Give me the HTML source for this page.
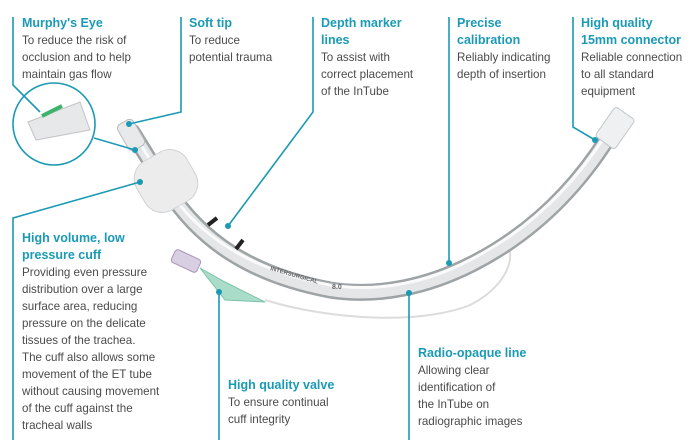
<!DOCTYPE html>
<html><head><style>
html,body{margin:0;padding:0;background:#fff}
svg{display:block}
.h{font:bold 12.5px "Liberation Sans",sans-serif;fill:#1b9ab6}
.b{font:11.6px "Liberation Sans",sans-serif;fill:#4a4a4a}
.l{stroke:#1b9ab6;stroke-width:1.6;fill:none}
.d{fill:#1b9ab6}
</style></head><body>
<svg width="700" height="440" viewBox="0 0 700 440" xmlns="http://www.w3.org/2000/svg">
<!-- pilot line -->
<path d="M265,300 C330,320 420,325 470,305 C500,290 520,262 505,238" stroke="#dcdcdc" stroke-width="2" fill="none"/>
<!-- tube -->
<path d="M132,132 L168,190 C200,240 250,275 330,290 C380,298 430,285 470,265 C530,235 575,190 608,138" stroke="#9ea3a6" stroke-width="17" fill="none" stroke-linecap="round"/>
<path d="M132,132 L168,190 C200,240 250,275 330,290 C380,298 430,285 470,265 C530,235 575,190 608,138" stroke="#e4e6e7" stroke-width="12" fill="none"/>
<path d="M132,130 L166,186 C198,236 250,270 330,285 C380,293 430,281 468,261 C528,231 572,187 605,136" stroke="#fafafa" stroke-width="3" fill="none"/>
<path d="M208,225 l9,-7" stroke="#222" stroke-width="4"/>
<path d="M236,249 l7,-9" stroke="#222" stroke-width="4"/>
<text x="270" y="270" transform="rotate(16 270 270)" style="font:bold 6px 'Liberation Sans',sans-serif;fill:#666">INTERSURGICAL</text>
<text x="332" y="289" style="font:bold 7px 'Liberation Sans',sans-serif;fill:#666">8.0</text>
<!-- cuff -->
<rect x="137" y="153" width="58" height="56" rx="20" fill="#ececec" stroke="#cfd2d4" transform="rotate(-30 166 181)"/>
<!-- tip -->
<rect x="122" y="120" width="18" height="30" rx="5" fill="#e8e9ea" stroke="#b9bcbf" transform="rotate(-30 131 135)"/>
<!-- connector -->
<rect x="603" y="110" width="24" height="36" rx="3" fill="#eef0f1" stroke="#c5c8ca" transform="rotate(35 615 128)"/>
<!-- valve -->
<path d="M200,268 L225,282 L265,302 L225,300 Z" fill="#a9dcc9" stroke="#7cc2a8"/>
<rect x="172" y="254" width="28" height="14" rx="3" fill="#d9cfe3" stroke="#a895b8" transform="rotate(25 186 261)"/>
<!-- murphy circle -->
<circle cx="54" cy="124" r="41" fill="#fff" stroke="#1b9ab6" stroke-width="1.6"/>
<path d="M28,122 L80,102 L90,130 L36,140 Z" fill="#e6e8e9" stroke="#c1c4c6"/>
<path d="M42,116 L62,106" stroke="#3bb36a" stroke-width="4"/>
<!-- leader lines -->
<path class="l" d="M13,17 V85 L40,112"/>
<path class="l" d="M94,138 L135,150"/><circle class="d" cx="135" cy="150" r="3"/>
<path class="l" d="M181,17 V112 L129,124"/><circle class="d" cx="129" cy="124" r="3"/>
<path class="l" d="M313,17 V112 L228,226"/><circle class="d" cx="228" cy="226" r="3"/>
<path class="l" d="M449,17 V263"/><circle class="d" cx="449" cy="263" r="3"/>
<path class="l" d="M573,17 V127 L595,140"/><circle class="d" cx="595" cy="140" r="3"/>
<path class="l" d="M13,440 V218 L140,182"/><circle class="d" cx="140" cy="182" r="3"/>
<path class="l" d="M219,292 V440"/><circle class="d" cx="219" cy="292" r="3"/>
<path class="l" d="M409,293 V440"/><circle class="d" cx="409" cy="293" r="3"/>
<!-- texts -->
<text class="h" x="22" y="27">Murphy's Eye</text>
<text class="b" x="22" y="44">To reduce the risk of</text>
<text class="b" x="22" y="61">occlusion and to help</text>
<text class="b" x="22" y="78">maintain gas flow</text>
<text class="h" x="189" y="27">Soft tip</text>
<text class="b" x="189" y="44">To reduce</text>
<text class="b" x="189" y="61">potential trauma</text>
<text class="h" x="321" y="27">Depth marker</text>
<text class="h" x="321" y="44">lines</text>
<text class="b" x="321" y="61">To assist with</text>
<text class="b" x="321" y="78">correct placement</text>
<text class="b" x="321" y="95">of the InTube</text>
<text class="h" x="457" y="27">Precise</text>
<text class="h" x="457" y="44">calibration</text>
<text class="b" x="457" y="61">Reliably indicating</text>
<text class="b" x="457" y="78">depth of insertion</text>
<text class="h" x="581" y="27">High quality</text>
<text class="h" x="581" y="44">15mm connector</text>
<text class="b" x="581" y="61">Reliable connection</text>
<text class="b" x="581" y="78">to all standard</text>
<text class="b" x="581" y="95">equipment</text>
<text class="h" x="22" y="242">High volume, low</text>
<text class="h" x="22" y="259">pressure cuff</text>
<text class="b" x="22" y="276">Providing even pressure</text>
<text class="b" x="22" y="293">distribution over a large</text>
<text class="b" x="22" y="310">surface area, reducing</text>
<text class="b" x="22" y="327">pressure on the delicate</text>
<text class="b" x="22" y="344">tissues of the trachea.</text>
<text class="b" x="22" y="361">The cuff also allows some</text>
<text class="b" x="22" y="378">movement of the ET tube</text>
<text class="b" x="22" y="395">without causing movement</text>
<text class="b" x="22" y="412">of the cuff against the</text>
<text class="b" x="22" y="429">tracheal walls</text>
<text class="h" x="228" y="389">High quality valve</text>
<text class="b" x="228" y="406">To ensure continual</text>
<text class="b" x="228" y="423">cuff integrity</text>
<text class="h" x="418" y="357">Radio-opaque line</text>
<text class="b" x="418" y="374">Allowing clear</text>
<text class="b" x="418" y="391">identification of</text>
<text class="b" x="418" y="408">the InTube on</text>
<text class="b" x="418" y="425">radiographic images</text>
</svg>
</body></html>
